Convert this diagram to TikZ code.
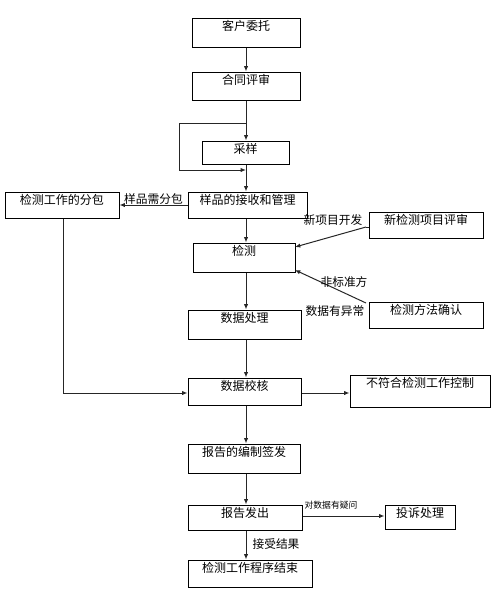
\documentclass[tikz,border=0pt]{standalone}
\usepackage{fontspec}
\setmainfont{Noto Sans CJK SC}
\usetikzlibrary{arrows.meta,calc}
\tikzset{
  box/.style={draw=black,line width=0.75pt,inner sep=0pt,fill=white},
  lbl/.style={anchor=north,inner sep=0pt,font=\fontsize{9}{10}\selectfont,yshift=-2pt},
  edgetxt/.style={inner sep=0pt,font=\fontsize{8.8}{10}\selectfont},
  smalltxt/.style={inner sep=0pt,font=\fontsize{6.6}{7}\selectfont},
  arr/.style={draw=black!85,line width=0.75pt,-{Latex[length=4pt,width=3.2pt]}},
  ln/.style={draw=black!85,line width=0.75pt}
}
\newcommand{\mybox}[7]{%
  \node[box,minimum width={(#4-#2)*0.75pt},minimum height={(#5-#3)*0.75pt},
        label={[lbl]north:#6}] (#1) at ({(#2+#4)/2},{(#3+#5)/2}) {};}
\begin{document}
\begin{tikzpicture}[x=0.75pt,y=-0.75pt]
\useasboundingbox (0,0) rectangle (496,597);
\coordinate (spine) at (246,0);
\mybox{n1}{192}{18}{300}{47}{客户委托}{}
\mybox{n2}{192}{72}{300}{100}{合同评审}{}
\mybox{n3}{202}{141}{289}{164}{采样}{}
\mybox{n4}{188}{192}{307}{218}{样品的接收和管理}{}
\mybox{n5}{5}{192}{119}{218}{检测工作的分包}{}
\mybox{n6}{193}{243}{295}{272}{检测}{}
\mybox{n7}{369}{212}{483}{238}{新检测项目评审}{}
\mybox{n8}{369}{302}{483}{328}{检测方法确认}{}
\mybox{n9}{188}{310}{301}{339}{数据处理}{}
\mybox{n10}{188}{378}{301}{405}{数据校核}{}
\mybox{n11}{350}{375}{490}{407}{不符合检测工作控制}{}
\mybox{n12}{188}{444}{300}{473}{报告的编制签发}{}
\mybox{n13}{188}{505}{302}{530}{报告发出}{}
\mybox{n14}{385}{505}{455}{529}{投诉处理}{}
\mybox{n15}{188}{560}{312}{587}{检测工作程序结束}{}
% main spine
\draw[arr] (n1.south -| spine) -- (n2.north -| spine);
\draw[arr] (n2.south -| spine) -- (n3.north -| spine);
\draw[arr] (n3.south -| spine) -- (n4.north -| spine);
\coordinate (lpa) at (246,123);
\coordinate (lpb) at (179,123);
\coordinate (lpc) at (179,170);
\coordinate (lpd) at (246,170);
\draw[arr] (lpa) -- (lpb) -- (lpc) -- (lpd);
\draw[arr] (n4.west) -- (n5.east) node[midway,above=0pt,edgetxt] (t1) {样品需分包};
\draw[arr] (n4.south -| spine) -- (n6.north -| spine);
\coordinate (s7) at (366,227);
\coordinate (e7) at (295,247);
\draw[ln] (n7.west |- s7) -- (s7);
\draw[arr] (s7) -- (e7);
\node[edgetxt] (t2) at (333,220) {新项目开发};
\coordinate (s8) at (366,303);
\coordinate (e8) at (295,270);
\draw[arr] (s8) -- (e8);
\node[edgetxt] (t3) at (344,282) {非标准方};
\node[edgetxt] (t4) at (335,311) {数据有异常};
\draw[arr] (n6.south -| spine) -- (n9.north -| spine);
\draw[arr] (n9.south -| spine) -- (n10.north -| spine);
\coordinate (c5) at (63,393);
\draw[arr] (n5.south -| c5) -- (c5) -- (n10.west |- c5);
\draw[arr] (n10.east |- c5) -- (n11.west |- c5);
\draw[arr] (n10.south -| spine) -- (n12.north -| spine);
\draw[arr] (n12.south -| spine) -- (n13.north -| spine);
\coordinate (c13) at (0,516);
\draw[arr] (n13.east |- c13) -- (n14.west |- c13);
\node[smalltxt] (t5) at (331,505) {对数据有疑问};
\draw[arr] (n13.south -| spine) -- (n15.north -| spine);
\node[edgetxt] (t6) at (276,544) {接受结果};
\end{tikzpicture}
\end{document}
